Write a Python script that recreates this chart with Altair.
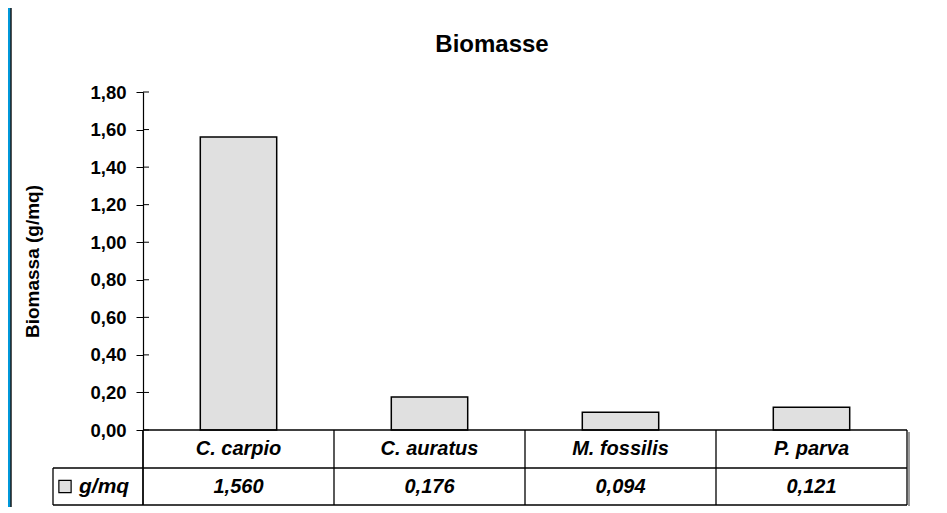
import altair as alt
import pandas as pd

# ---- data ----
categories = ["C. carpio", "C. auratus", "M. fossilis", "P. parva"]
biomass = [1.560, 0.176, 0.094, 0.121]
y_ticks = [0.0, 0.2, 0.4, 0.6, 0.8, 1.0, 1.2, 1.4, 1.6, 1.8]
series_name = ["g/mq"]
title_text = "Biomasse"
y_title = "Biomassa (g/mq)"

df = pd.DataFrame({"cat": categories, "val": biomass})
ticks_df = pd.DataFrame({"t": y_ticks})
one = pd.DataFrame({"name": series_name})

# ---- layout ----
W, H = 764, 413        # plot + table area
PLOT_H = 338           # bar area height
ROW1 = 376             # boundary between header row and value row
FONT = "Liberation Sans"
BLUE = "#0098DA"
GREY = "#E0E0E0"

x_scale = alt.Scale(domain=categories, paddingInner=0, paddingOuter=0)
y_scale = alt.Scale(domain=[0, 1.8], range=[PLOT_H, 0], nice=False)
x_enc = alt.X("cat:N", scale=x_scale, axis=None, sort=categories)

y_axis = alt.Axis(
    values=y_ticks,
    format=".2f",
    grid=False,
    zindex=2,
    domainColor="black",
    domainWidth=1.2,
    tickColor="black",
    tickSize=7,
    tickWidth=1,
    labelFont=FONT,
    labelFontSize=18.5,
    labelFontWeight="bold",
    labelColor="black",
    labelPadding=10,
    title=y_title,
    titleFont=FONT,
    titleFontSize=19,
    titleFontWeight="bold",
    titleColor="black",
    titleAngle=270,
    titleX=-111,
    titleY=PLOT_H / 2,
    titleAlign="center",
    titleBaseline="middle",
)

panel = alt.Chart(one).mark_rect(fill="white").encode(
    x=alt.value(-132), x2=alt.value(W + 40), y=alt.value(-84), y2=alt.value(H + 20)
)
panel_edge = alt.Chart(one).mark_rule(color="#1a1a1a", strokeWidth=1.5).encode(
    x=alt.value(-132), y=alt.value(-84), y2=alt.value(H + 20)
)

bars = alt.Chart(df).mark_bar(
    width={"band": 0.4}, fill=GREY, stroke="black", strokeWidth=1.5
).encode(
    x=x_enc,
    y=alt.Y("val:Q", scale=y_scale, axis=y_axis, title=y_title),
)

inner_ticks = alt.Chart(ticks_df).mark_rule(color="black", strokeWidth=1).encode(
    y=alt.Y("t:Q", scale=y_scale, axis=y_axis, title=y_title),
    x=alt.value(0),
    x2=alt.value(6),
)

# table lines
line_style = dict(color="black", strokeWidth=1.3)
hline_axis = alt.Chart(one).mark_rule(**line_style).encode(
    x=alt.value(0), x2=alt.value(W), y=alt.value(PLOT_H)
)
hline_mid = alt.Chart(one).mark_rule(**line_style).encode(
    x=alt.value(-90), x2=alt.value(W), y=alt.value(ROW1)
)
hline_bot = alt.Chart(one).mark_rule(**line_style).encode(
    x=alt.value(-90), x2=alt.value(W), y=alt.value(H)
)
vline_left = alt.Chart(one).mark_rule(**line_style).encode(
    x=alt.value(-90), y=alt.value(ROW1), y2=alt.value(H)
)
vline_axis = alt.Chart(one).mark_rule(**line_style).encode(
    x=alt.value(0), y=alt.value(PLOT_H), y2=alt.value(H)
)
vline_right = alt.Chart(one).mark_rule(**line_style).encode(
    x=alt.value(W), y=alt.value(PLOT_H), y2=alt.value(H)
)
shadow = alt.Chart(one).mark_rule(color="#9a9a9a", strokeWidth=2).encode(
    x=alt.value(W + 2), y=alt.value(PLOT_H + 2), y2=alt.value(H + 1)
)
vlines = alt.Chart(df).mark_rule(**line_style).encode(
    x=alt.X("cat:N", scale=x_scale, axis=None, sort=categories, bandPosition=0),
    y=alt.value(PLOT_H),
    y2=alt.value(H),
)

text_style = dict(font=FONT, fontSize=20, fontWeight="bold", fontStyle="italic",
                  color="black", baseline="middle")
header = alt.Chart(df).mark_text(**text_style).encode(
    x=x_enc, y=alt.value((PLOT_H + ROW1) / 2), text="cat:N"
)
values_txt = alt.Chart(df).mark_text(**text_style).encode(
    x=x_enc, y=alt.value((ROW1 + H) / 2), text=alt.Text("val:Q", format=".3f")
)

legend_box = alt.Chart(one).mark_point(
    shape="square", filled=True, size=150, fill=GREY, stroke="black", strokeWidth=1.2, opacity=1
).encode(x=alt.value(-78), y=alt.value((ROW1 + H) / 2))
legend_txt = alt.Chart(one).mark_text(**{**text_style, "align": "left", "fontSize": 21}).encode(
    x=alt.value(-64), y=alt.value((ROW1 + H) / 2), text="name:N"
)

chart = alt.layer(
    panel, panel_edge, bars, inner_ticks, hline_axis, hline_mid, hline_bot,
    vline_left, vline_axis, vline_right, shadow, vlines, header, values_txt,
    legend_box, legend_txt,
).properties(
    width=W,
    height=H,
    title=alt.TitleParams(title_text, font=FONT, fontSize=24, fontWeight="bold",
                          color="black", anchor="middle", frame="group",
                          baseline="alphabetic", offset=0, dx=-33, dy=69),
    padding={"left": 135, "top": 84, "right": 32, "bottom": 2},
    autosize=alt.AutoSizeParams(type="none"),
).configure(
    background=BLUE,
    locale=alt.Locale(number=alt.NumberLocale(decimal=",", thousands=".",
                                              grouping=[3], currency=["€", ""])),
).configure_view(stroke=None)

chart.save("out.html", embed_options={"renderer": "svg", "actions": False})
